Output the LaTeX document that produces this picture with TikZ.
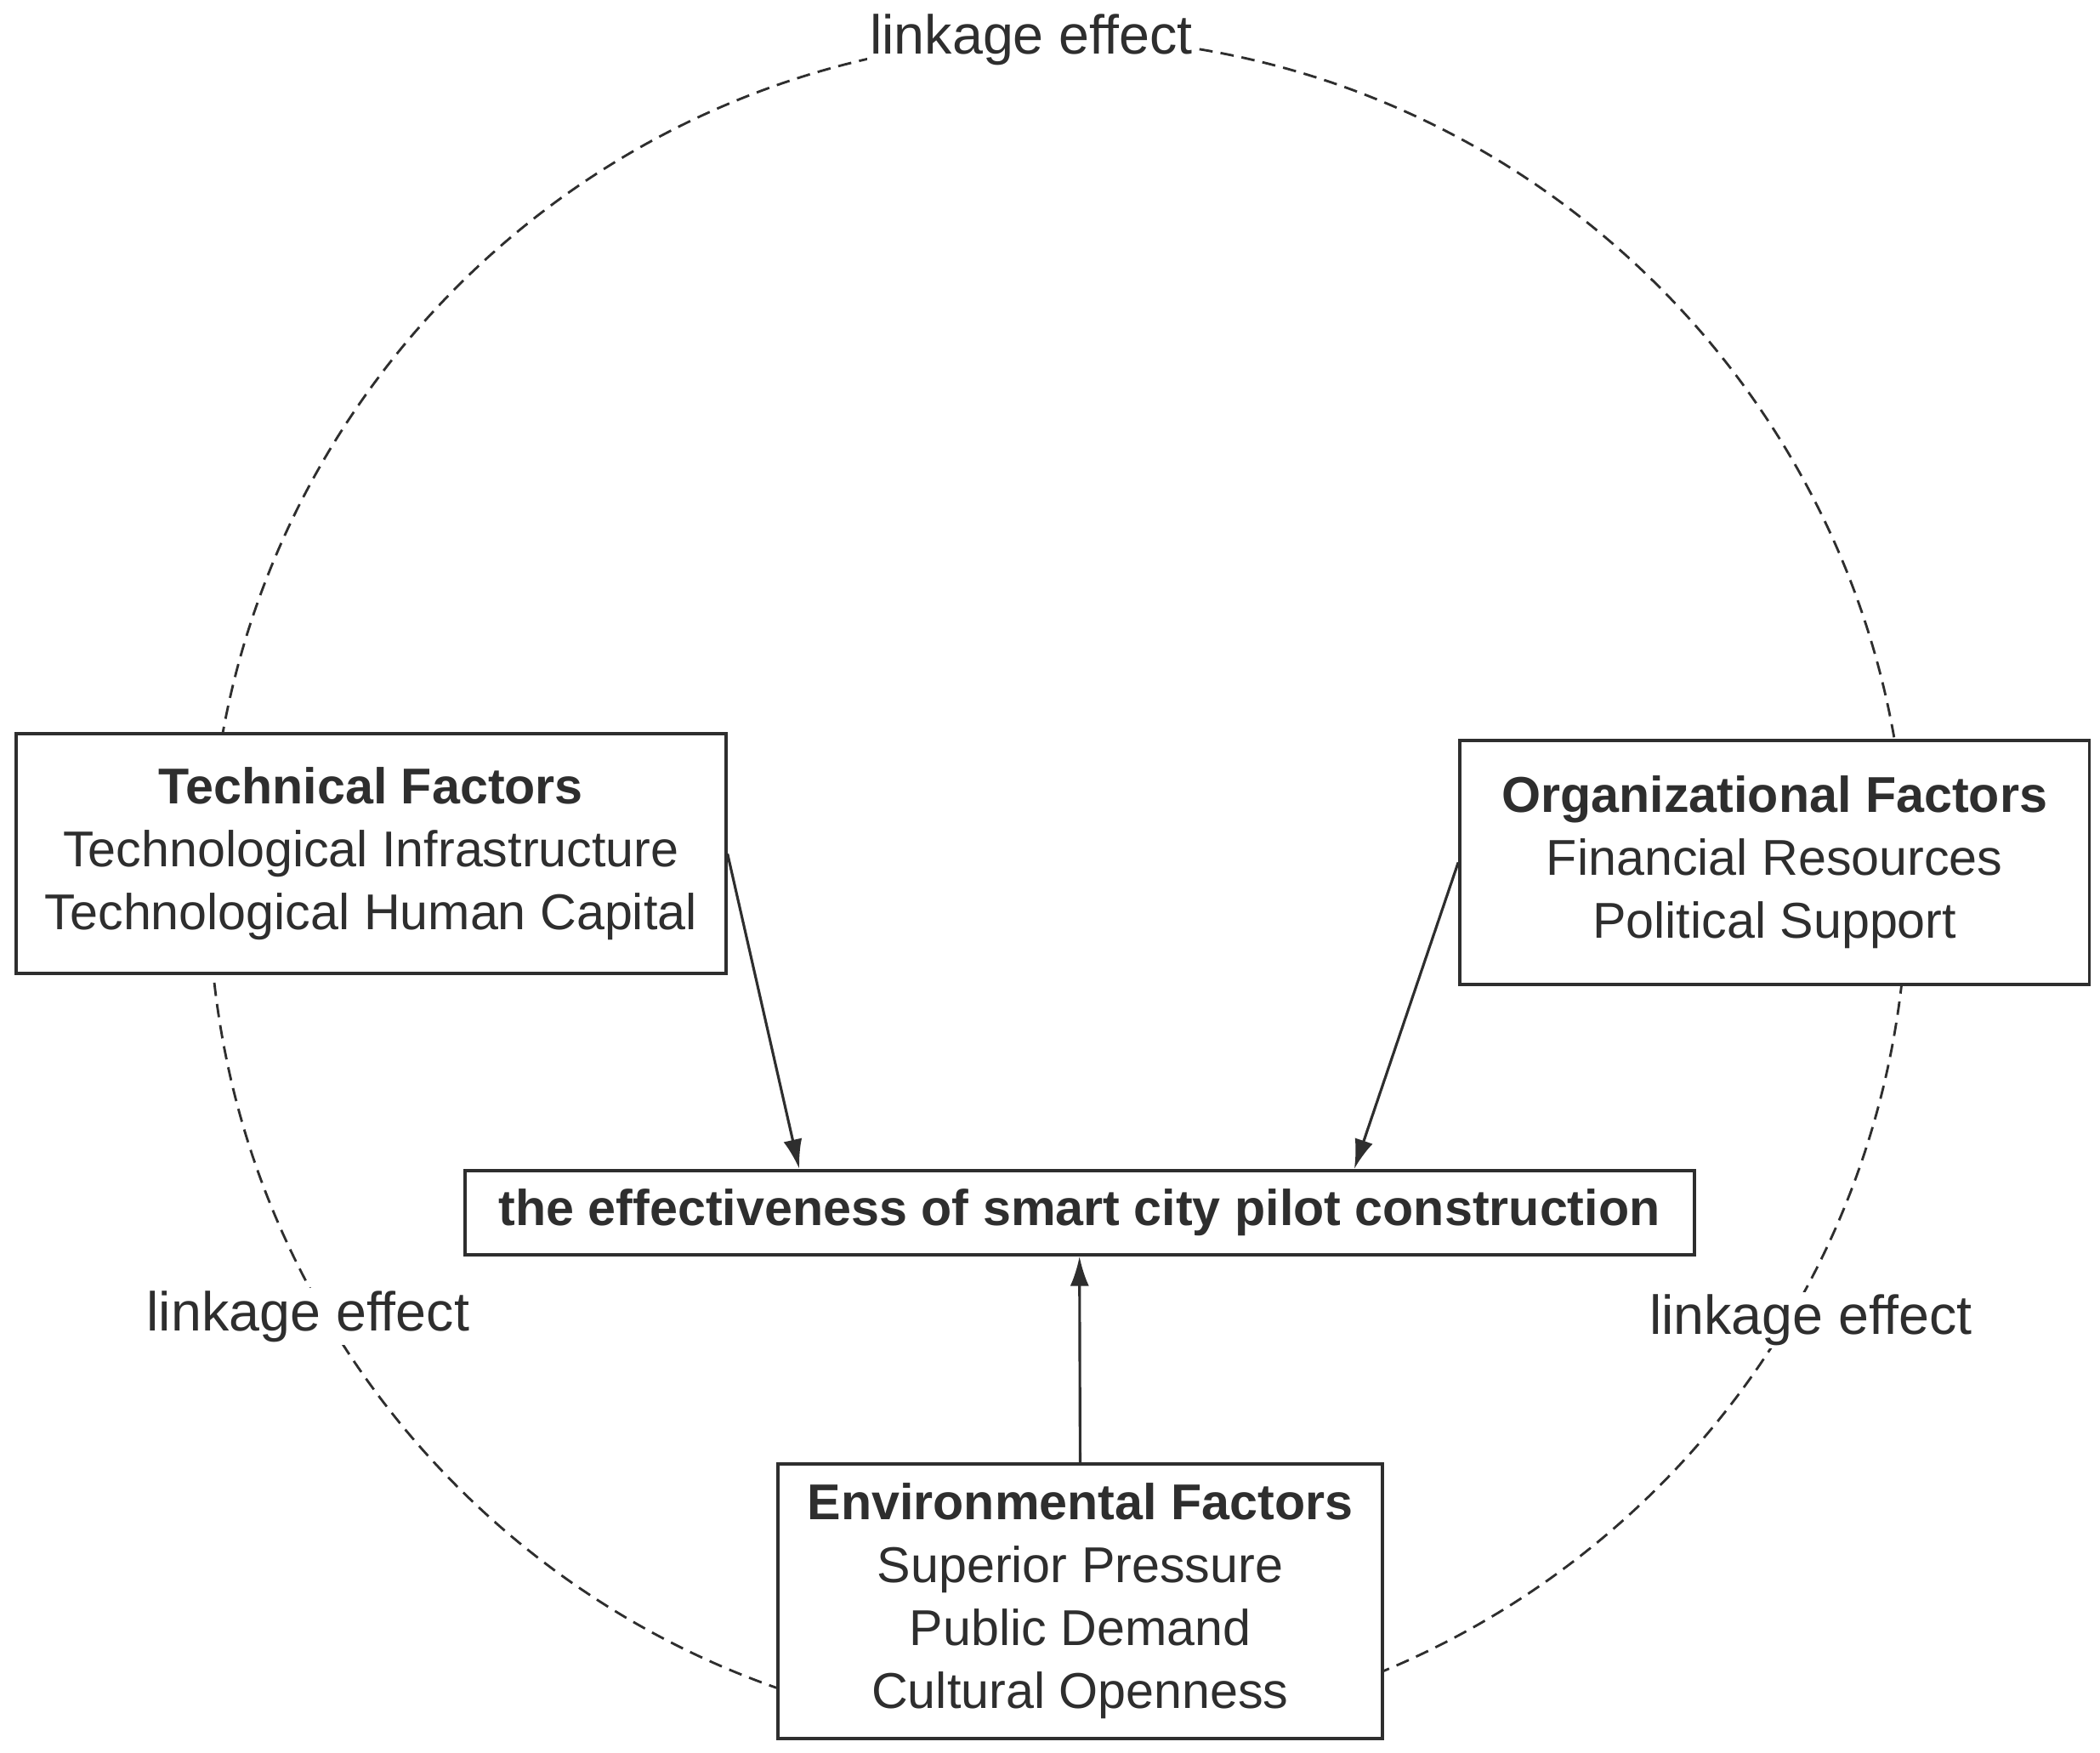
\documentclass[tikz,border=0pt]{standalone}
\usepackage{fontspec}
\setmainfont{Liberation Sans}
\usetikzlibrary{arrows.meta,calc}
\definecolor{ink}{HTML}{2E2E2E}
\begin{document}
\begin{tikzpicture}[x=0.5pt,y=-0.5pt,
  box/.style={draw=ink,line width=1.2pt,fill=white,align=center,text=ink,
    font=\fontsize{18.8pt}{23.5pt}\selectfont,inner sep=0pt},
  lbl/.style={fill=white,text=ink,font=\fontsize{20.5pt}{24pt}\selectfont,inner sep=1pt},
  arr/.style={draw=ink,line width=1pt,-{Latex[length=11pt,width=7pt]}},
  ring/.style={draw=ink,line width=0.9pt,dash pattern=on 5pt off 3pt}]
\useasboundingbox (0,0) rectangle (1568,1309);
\fill[white] (0,0) rectangle (1568,1309);
% dashed circle
\draw[ring] (790,662) circle[radius=317pt];
% labels
\node[lbl] (ltop) at (770,30) {linkage effect};
\node[lbl] (lleft) at (230,983) {linkage effect};
\node[lbl] (lright) at (1352,986) {linkage effect};
% boxes
\node[box,minimum width=265pt,minimum height=89.5pt] (tech) at (277,637.5)
  {\textbf{Technical Factors}\\Technological Infrastructure\\Technological Human Capital};
\node[box,minimum width=235pt,minimum height=91pt] (org) at (1325,644)
  {\textbf{Organizational Factors}\\Financial Resources\\Political Support};
\node[box,minimum width=459pt,minimum height=31.5pt] (cen) at (806,905.5)
  {\textbf{the effectiveness of smart city pilot construction}};
\node[box,minimum width=225.5pt,minimum height=102.5pt] (env) at (806.5,1195.5)
  {\textbf{Environmental Factors}\\Superior Pressure\\Public Demand\\Cultural Openness};
% arrows
\draw[arr] (tech.east) -- ([xshift=125.5pt]cen.north west);
\draw[arr] (org.west) -- ([xshift=-127.5pt]cen.north east);
\draw[arr] (env.north) -- (cen.south);
\end{tikzpicture}
\end{document}
